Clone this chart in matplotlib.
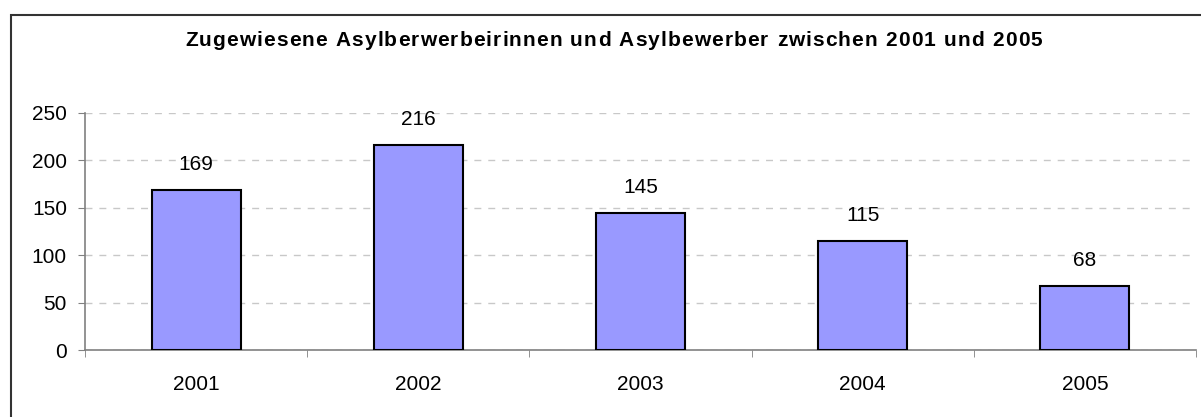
import matplotlib.pyplot as plt
from matplotlib.patches import Rectangle

plt.rcParams['font.family'] = ['Liberation Sans', 'DejaVu Sans']

# data
years = ['2001', '2002', '2003', '2004', '2005']
werte = [169, 216, 145, 115, 68]
titel = 'Zugewiesene Asylberwerbeirinnen und Asylbewerber zwischen 2001 und 2005'

W, H = 1201, 417
fig = plt.figure(figsize=(W / 100, H / 100), dpi=100)
ax = fig.add_axes([85 / W, (H - 350) / H, (1196 - 85) / W, (350 - 113) / H])

x = list(range(len(years)))
ax.bar(x, werte, width=0.4, color='#9999FF', edgecolor='black', linewidth=1.5, zorder=3)
for xi, v in zip(x, werte):
    ax.annotate(str(v), (xi, v), xytext=(0, 11.5), textcoords='offset points',
                ha='center', va='bottom', fontsize=15)

ax.set_xlim(-0.5, len(years) - 0.5)
ax.set_ylim(0, 250)
ax.set_yticks(range(0, 251, 50))
ax.yaxis.grid(True, color='#c8c8c8', linestyle=(0, (5, 5)), linewidth=1)
ax.set_axisbelow(True)

# category labels centered, ticks between categories
ax.set_xticks(x)
ax.set_xticklabels(years, fontsize=15)
ax.tick_params(axis='x', which='major', length=0, pad=18)
ax.set_xticks([i - 0.5 for i in range(len(years) + 1)], minor=True)
ax.tick_params(axis='x', which='minor', length=5, color='#808080', direction='out')
ax.tick_params(axis='y', labelsize=15, length=5, color='#808080', pad=8)

for s in ['top', 'right']:
    ax.spines[s].set_visible(False)
for s in ['left', 'bottom']:
    ax.spines[s].set_color('#808080')
    ax.spines[s].set_linewidth(1.2)

# title with slightly wide letter spacing, placed char by char
renderer = fig.canvas.get_renderer()
fs_t = 15
x0, x1 = 185, 1042
widths = []
for ch in titel:
    t = fig.text(0, 0, ch if ch != ' ' else 'n', fontsize=fs_t, fontweight='bold')
    w = t.get_window_extent(renderer).width
    if ch == ' ':
        w *= 0.5
    widths.append(w)
    t.remove()
extra = (x1 - x0 - sum(widths)) / (len(titel) - 1)
pos = x0
for ch, w in zip(titel, widths):
    fig.text(pos / W, (H - 41) / H, ch, ha='left', va='center',
             fontsize=fs_t, fontweight='bold')
    pos += w + extra

fig.patches.append(Rectangle((11 / W, -0.1), 1.2, (H - 15) / H + 0.1,
                             transform=fig.transFigure, fill=False,
                             edgecolor='#333333', linewidth=1.5))

fig.savefig('out.png', dpi=100)
